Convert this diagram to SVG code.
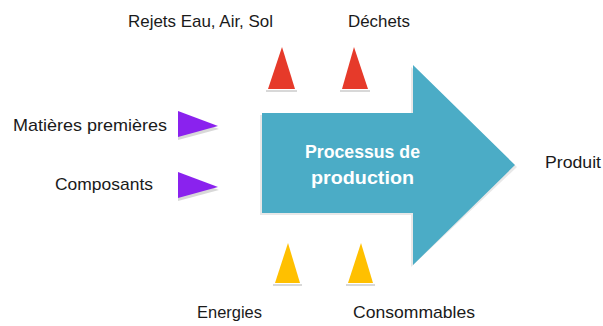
<svg xmlns="http://www.w3.org/2000/svg" width="603" height="326" viewBox="0 0 603 326">
<style>
.lbl{font-family:"Liberation Sans",Arial,sans-serif;font-size:17px;fill:#1a1a1a}
.ttl{font-family:"Liberation Sans",Arial,sans-serif;font-size:18px;font-weight:bold;fill:#ffffff}
.red{fill:#e63a2a}
.pur{fill:#8a22ee}
.yel{fill:#ffc000}
.sh{fill:#c8c8c8;opacity:0.7}
</style>
<rect width="603" height="326" fill="#ffffff"/>
<g id="connectors">
<g id="in-matieres"><polygon class="sh" points="178,114 219,129 178,140"/><polygon class="pur" points="178,111 218,126 178,137"/></g>
<g id="in-composants"><polygon class="sh" points="178,175 219,190 178,201"/><polygon class="pur" points="178,172 218,187 178,198"/></g>
<g id="out-rejets"><rect class="sh" x="266" y="90" width="31" height="2"/><polygon class="red" points="282,47 268,89 295,89"/></g>
<g id="out-dechets"><rect class="sh" x="340" y="90" width="30" height="2"/><polygon class="red" points="354,47 342,89 368,89"/></g>
<g id="in-energies"><rect class="sh" x="273" y="284" width="29" height="2"/><polygon class="yel" points="288,243 275,283 300,283"/></g>
<g id="in-consommables"><rect class="sh" x="346" y="284" width="29" height="2"/><polygon class="yel" points="361,243 348,283 373,283"/></g>
</g>
<g id="process">
<polygon points="260,115 411,115 411,67 517,167 411,267 411,215 260,215" fill="#d9d9d9" opacity="0.6"/>
<polygon points="262,113 413,113 413,65 515,165 413,265 413,213 262,213" fill="#4bacc6"/>
<text class="ttl" x="305" y="158" textLength="115" lengthAdjust="spacingAndGlyphs">Processus de</text>
<text class="ttl" x="311" y="184" textLength="103" lengthAdjust="spacingAndGlyphs">production</text>
</g>
<g id="labels">
<text class="lbl" x="128" y="27" textLength="145" lengthAdjust="spacingAndGlyphs">Rejets Eau, Air, Sol</text>
<text class="lbl" x="348" y="27" textLength="62" lengthAdjust="spacingAndGlyphs">Déchets</text>
<text class="lbl" x="13" y="131" textLength="154" lengthAdjust="spacingAndGlyphs">Matières premières</text>
<text class="lbl" x="55" y="190" textLength="98" lengthAdjust="spacingAndGlyphs">Composants</text>
<text class="lbl" x="545" y="168" textLength="56" lengthAdjust="spacingAndGlyphs">Produit</text>
<text class="lbl" x="197" y="318" textLength="65" lengthAdjust="spacingAndGlyphs">Energies</text>
<text class="lbl" x="353" y="318" textLength="122" lengthAdjust="spacingAndGlyphs">Consommables</text>
</g>
</svg>
